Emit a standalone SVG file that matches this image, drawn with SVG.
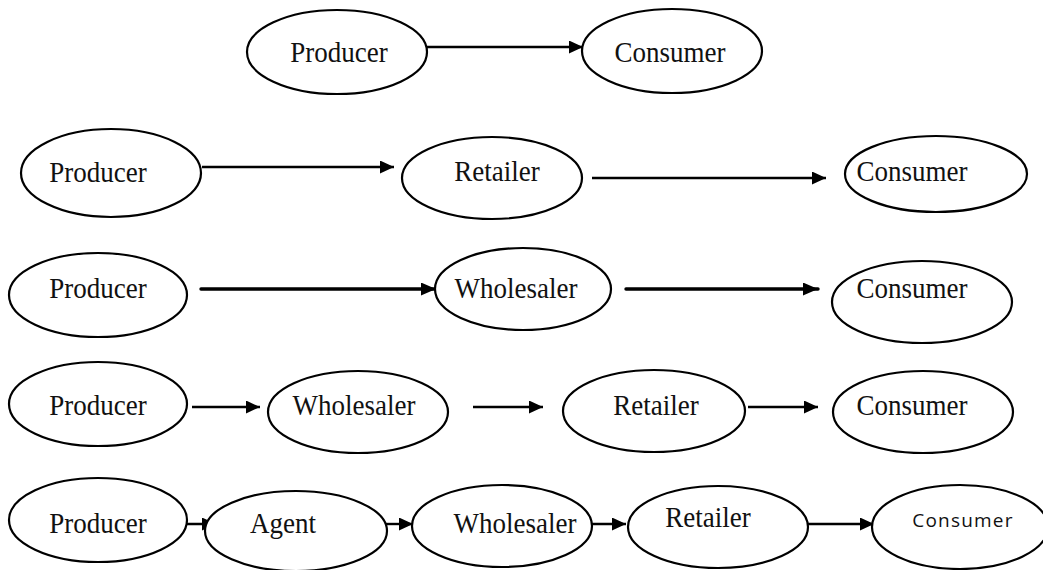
<svg xmlns="http://www.w3.org/2000/svg" width="1043" height="570" viewBox="0 0 1043 570">
  <defs>
    <style>
      .node ellipse { fill: #ffffff; stroke: #000000; stroke-width: 2.2; }
      .lbl { font-family: "Liberation Serif", "Times New Roman", serif; font-size: 27px; fill: #111111; text-anchor: middle; }
      .lbl-sans { font-family: "Open Sans", "Liberation Sans", sans-serif; font-size: 19px; letter-spacing: 1.2px; fill: #111111; text-anchor: middle; }
      .edge { stroke: #000000; stroke-width: 2.4; fill: none; marker-end: url(#arrow); }
      .edge-bold { stroke: #000000; stroke-width: 3.4; fill: none; stroke-linecap: round; marker-end: url(#arrow-bold); }
    </style>
    <marker id="arrow" markerUnits="userSpaceOnUse" markerWidth="14" markerHeight="13" refX="14" refY="6.5" orient="auto">
      <path d="M0,0 L14,6.5 L0,13 z" fill="#000000"/>
    </marker>
    <marker id="arrow-bold" markerUnits="userSpaceOnUse" markerWidth="15" markerHeight="13" refX="15" refY="6.5" orient="auto">
      <path d="M0,0 L15,6.5 L0,13 z" fill="#000000"/>
    </marker>
  </defs>

  <rect width="1043" height="570" fill="#ffffff"/>

  <!-- connectors -->
  <g id="connectors">
    <!-- row 1 -->
    <line class="edge" x1="427" y1="47" x2="583" y2="47"/>
    <!-- row 2 -->
    <line class="edge" x1="202" y1="167" x2="394" y2="167"/>
    <line class="edge" x1="592" y1="178" x2="826" y2="178"/>
    <!-- row 3 -->
    <line class="edge-bold" x1="201" y1="289" x2="436" y2="289"/>
    <line class="edge-bold" x1="626" y1="289" x2="818" y2="289"/>
    <!-- row 4 -->
    <line class="edge" x1="192" y1="407" x2="260" y2="407"/>
    <line class="edge" x1="473" y1="407" x2="543" y2="407"/>
    <line class="edge" x1="748" y1="407" x2="818" y2="407"/>
    <!-- row 5 -->
    <line class="edge" x1="182" y1="524" x2="216" y2="524"/>
    <line class="edge" x1="382" y1="524" x2="413" y2="524"/>
    <line class="edge" x1="592" y1="524" x2="626" y2="524"/>
    <line class="edge" x1="807" y1="524" x2="874" y2="524"/>
  </g>

  <!-- row 1 -->
  <g id="r1-producer" class="node">
    <ellipse cx="337" cy="52" rx="90" ry="42"/>
    <text class="lbl" transform="translate(339,62) scale(1,1.08)">Producer</text>
  </g>
  <g id="r1-consumer" class="node">
    <ellipse cx="672" cy="51" rx="90" ry="42"/>
    <text class="lbl" transform="translate(670,62) scale(1,1.08)">Consumer</text>
  </g>

  <!-- row 2 -->
  <g id="r2-producer" class="node">
    <ellipse cx="111" cy="173" rx="90" ry="44"/>
    <text class="lbl" transform="translate(98,182) scale(1,1.08)">Producer</text>
  </g>
  <g id="r2-retailer" class="node">
    <ellipse cx="492" cy="178" rx="90" ry="41"/>
    <text class="lbl" transform="translate(497,181) scale(1,1.08)">Retailer</text>
  </g>
  <g id="r2-consumer" class="node">
    <ellipse cx="936" cy="174" rx="91" ry="38"/>
    <text class="lbl" transform="translate(912,181) scale(1,1.08)">Consumer</text>
  </g>

  <!-- row 3 -->
  <g id="r3-producer" class="node">
    <ellipse cx="98" cy="295" rx="89" ry="42"/>
    <text class="lbl" transform="translate(98,298) scale(1,1.08)">Producer</text>
  </g>
  <g id="r3-wholesaler" class="node">
    <ellipse cx="523" cy="289" rx="88" ry="41"/>
    <text class="lbl" transform="translate(516,298) scale(1,1.08)">Wholesaler</text>
  </g>
  <g id="r3-consumer" class="node">
    <ellipse cx="922" cy="302" rx="90" ry="41"/>
    <text class="lbl" transform="translate(912,298) scale(1,1.08)">Consumer</text>
  </g>

  <!-- row 4 -->
  <g id="r4-producer" class="node">
    <ellipse cx="98" cy="404" rx="89" ry="42"/>
    <text class="lbl" transform="translate(98,415) scale(1,1.08)">Producer</text>
  </g>
  <g id="r4-wholesaler" class="node">
    <ellipse cx="358" cy="412" rx="90" ry="41"/>
    <text class="lbl" transform="translate(354,415) scale(1,1.08)">Wholesaler</text>
  </g>
  <g id="r4-retailer" class="node">
    <ellipse cx="654" cy="411" rx="91" ry="41"/>
    <text class="lbl" transform="translate(656,415) scale(1,1.08)">Retailer</text>
  </g>
  <g id="r4-consumer" class="node">
    <ellipse cx="923" cy="412" rx="90" ry="41"/>
    <text class="lbl" transform="translate(912,415) scale(1,1.08)">Consumer</text>
  </g>

  <!-- row 5 -->
  <g id="r5-producer" class="node">
    <ellipse cx="98" cy="520" rx="89" ry="42"/>
    <text class="lbl" transform="translate(98,533) scale(1,1.08)">Producer</text>
  </g>
  <g id="r5-agent" class="node">
    <ellipse cx="296" cy="531" rx="91" ry="40"/>
    <text class="lbl" transform="translate(283,533) scale(1,1.08)">Agent</text>
  </g>
  <g id="r5-wholesaler" class="node">
    <ellipse cx="502" cy="526" rx="90" ry="41"/>
    <text class="lbl" transform="translate(515,533) scale(1,1.08)">Wholesaler</text>
  </g>
  <g id="r5-retailer" class="node">
    <ellipse cx="718" cy="527" rx="90" ry="41"/>
    <text class="lbl" transform="translate(708,527) scale(1,1.08)">Retailer</text>
  </g>
  <g id="r5-consumer" class="node">
    <ellipse cx="960" cy="527" rx="88" ry="42"/>
    <text class="lbl-sans" x="963" y="527">Consumer</text>
  </g>
</svg>
